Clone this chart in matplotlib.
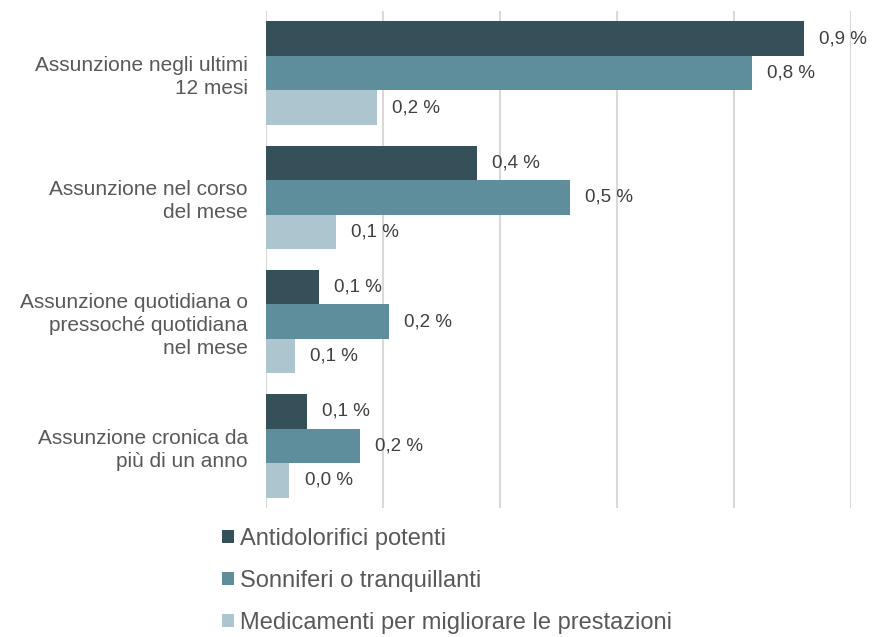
import numpy as np
import matplotlib.pyplot as plt

plt.rcParams['font.family'] = ['Liberation Sans', 'DejaVu Sans']

# dati (in %)
categorie = [
    "Assunzione negli ultimi\n12 mesi",
    "Assunzione nel corso\ndel mese",
    "Assunzione quotidiana o\npressoché quotidiana\nnel mese",
    "Assunzione cronica da\npiù di un anno",
]
serie = [
    "Antidolorifici potenti",
    "Sonniferi o tranquillanti",
    "Medicamenti per migliorare le prestazioni",
]
antidolorifici = [0.92, 0.36, 0.09, 0.07]
sonniferi = [0.83, 0.52, 0.21, 0.16]
medicamenti = [0.19, 0.12, 0.05, 0.04]
etichette = [
    ["0,9 %", "0,4 %", "0,1 %", "0,1 %"],
    ["0,8 %", "0,5 %", "0,2 %", "0,2 %"],
    ["0,2 %", "0,1 %", "0,1 %", "0,0 %"],
]
colori = ["#36505a", "#5e8d9c", "#adc5cf"]

fig = plt.figure(figsize=(8.72, 6.37), dpi=100)
ax = fig.add_axes([266 / 872, 1 - 508 / 637, (851 - 266) / 872, 497 / 637])

y = np.arange(len(categorie))
h = 0.278
valori = [antidolorifici, sonniferi, medicamenti]
for k, (vals, col, nome) in enumerate(zip(valori, colori, serie)):
    pos = y + (k - 1) * h
    ax.barh(pos, vals, height=h, color=col, label=nome, zorder=3)
    for p, v, t in zip(pos, vals, etichette[k]):
        ax.text(v + 0.026, p, t, va='center', ha='left', fontsize=13.5, color='#404040')

ax.set_xlim(0, 1.0)
ax.set_ylim(3.5, -0.5)
ax.set_xticks(np.arange(0, 1.01, 0.2))
ax.set_xticklabels([])
ax.grid(axis='x', color='#d9d9d9', linewidth=1.5, zorder=0)
ax.set_yticks(y)
ax.set_yticklabels(categorie, fontsize=15, color='#595959', linespacing=1.25)
ax.tick_params(axis='both', length=0)
ax.tick_params(axis='y', pad=13)
for s in ax.spines.values():
    s.set_visible(False)

fig.legend(loc='upper left', bbox_to_anchor=(222 / 872, 1 - 528 / 637),
           frameon=False, fontsize=17, handlelength=0.5, handleheight=0.5,
           handletextpad=0.25, labelspacing=0.85, borderpad=0, borderaxespad=0,
           labelcolor='#595959')

fig.savefig('out.png', dpi=100)
